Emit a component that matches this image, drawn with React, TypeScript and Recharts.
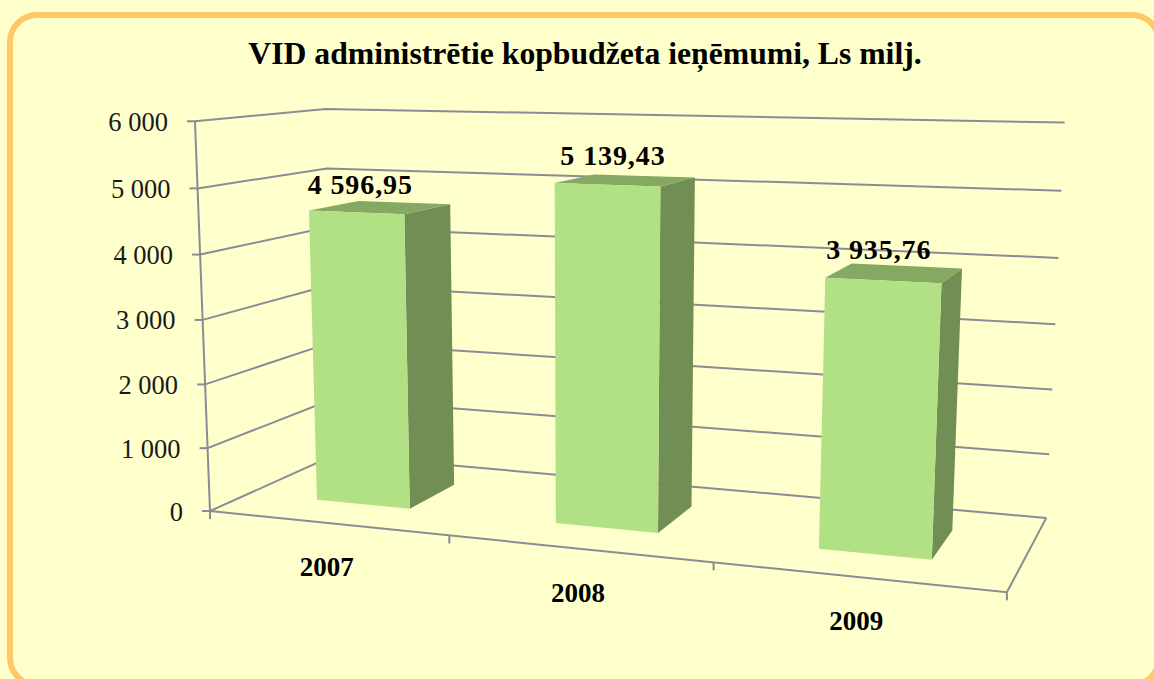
import React from "react";
import { ComposedChart, Bar, XAxis, YAxis, CartesianGrid, ReferenceLine, LabelList } from "recharts";

const categories = ["2007", "2008", "2009"];
const revenue = [4596.95, 5139.43, 3935.76];
const revenueLabels = ["4 596,95", "5 139,43", "3 935,76"];
const valueTicks = [0, 1000, 2000, 3000, 4000, 5000, 6000];
const tickLabels = ["0", "1 000", "2 000", "3 000", "4 000", "5 000", "6 000"];
const chartTitle = "VID administrētie kopbudžeta ieņēmumi, Ls milj.";

const rows = categories.map((year, i) => ({ year, revenue: revenue[i], label: revenueLabels[i] }));

// Plot rectangle handed to Recharts; its scales are then viewed through a perspective camera.
const W = 1154, H = 679;
const PL = 190, PT = 120, PW = 840, PH = 390;
const SERIF = "'Liberation Serif', serif";
const GRID = "#8b8b96";

const O = [210, 511];
const VU = [-4621, 18], VV = [590, 10350], VW = [1312, 16];
const KU = -0.1416, KV = -0.0381, KW = 0.1272;
const project = (u: number, v: number, w: number) => {
  const a = u * KU, b = v * KV, c = w * KW;
  const d = 1 + a + b + c;
  return [
    (O[0] + a * VU[0] + b * VV[0] + c * VW[0]) / d,
    (O[1] + a * VU[1] + b * VV[1] + c * VW[1]) / d,
  ];
};
const toU = (x: number) => (x - PL) / PW;
const toV = (y: number) => (PT + PH - y) / PH;
const pts = (list: number[][]) => list.map((p) => `${p[0].toFixed(1)},${p[1].toFixed(1)}`).join(" ");

const W_FRONT = 0.293, W_BACK = 0.7;
const labelShiftX = [4, 6, -4];
const labelShiftY = [-18.5, -20, -21.5];

const Box = (props: any) => {
  const { x, y, width, height } = props;
  const u0 = toU(x), u1 = toU(x + width);
  const v1 = toV(y), v0 = toV(y + height);
  const f = (u: number, v: number, w: number) => project(u, v, w);
  return (
    <g>
      <polygon points={pts([f(u1, v0, W_FRONT), f(u1, v0, W_BACK), f(u1, v1, W_BACK), f(u1, v1, W_FRONT)])} fill="#718e55" />
      <polygon points={pts([f(u0, v1, W_FRONT), f(u0, v1, W_BACK), f(u1, v1, W_BACK), f(u1, v1, W_FRONT)])} fill="#85a863" />
      <polygon points={pts([f(u0, v0, W_FRONT), f(u1, v0, W_FRONT), f(u1, v1, W_FRONT), f(u0, v1, W_FRONT)])} fill="#b1e085" />
    </g>
  );
};

const GridLine = (props: any) => {
  const v = toV(props.y1);
  return <polyline key={props.key ?? props.y1} points={pts([project(0, v, 0), project(0, v, 1), project(1, v, 1)])} fill="none" stroke={GRID} strokeWidth={2} />;
};

const Frame = () => (
  <g fill="none" stroke={GRID} strokeWidth={2}>
    <line x1={project(0, 0, 0)[0]} y1={project(0, 0, 0)[1]} x2={project(0, 1, 0)[0]} y2={project(0, 1, 0)[1]} />
    <polyline points={pts([project(0, 0, 0), project(1, 0, 0), project(1, 0, 1)])} />
  </g>
);

const YTick = (props: any) => {
  const { y, index } = props;
  const p = project(0, toV(y), 0);
  return (
    <g>
      <line x1={p[0] - 8} y1={p[1]} x2={p[0]} y2={p[1]} stroke={GRID} strokeWidth={2} />
      <text x={p[0] - 27} y={p[1] + 9.5} textAnchor="end" fontFamily={SERIF} fontSize={26.5} fill="#1a1a1a">
        {tickLabels[index]}
      </text>
    </g>
  );
};

const XTick = (props: any) => {
  const { x, index, payload } = props;
  const half = 0.5 / categories.length;
  const u = toU(x);
  const c = project(u, 0, 0);
  const right = project(u + half, 0, 0);
  const left = project(u - half, 0, 0);
  return (
    <g>
      {index === 0 && <line x1={left[0]} y1={left[1]} x2={left[0]} y2={left[1] + 8} stroke={GRID} strokeWidth={2} />}
      <line x1={right[0]} y1={right[1]} x2={right[0]} y2={right[1] + 8} stroke={GRID} strokeWidth={2} />
      <text x={c[0]} y={c[1] + 53} textAnchor="middle" fontFamily={SERIF} fontWeight="bold" fontSize={27} fill="#000">
        {payload.value}
      </text>
    </g>
  );
};

const ValueLabel = (props: any) => {
  const { x, y, width, value, index } = props;
  const p = project(toU(x + width / 2), toV(y), W_FRONT);
  return (
    <text x={p[0] + labelShiftX[index]} y={p[1] + labelShiftY[index]} textAnchor="middle" fontFamily={SERIF} fontWeight="bold" fontSize={28} letterSpacing={0.9} fill="#000">
      {value}
    </text>
  );
};

export default function App() {
  return (
    <div style={{ position: "absolute", left: 0, top: 0, width: W, height: H, overflow: "hidden", background: "#ffffcc" }}>
      <div
        style={{
          position: "absolute", left: 7, top: 12, width: 1155, height: 676, boxSizing: "border-box",
          border: "6px solid #ffc866", borderRadius: 30, background: "#ffffcc",
        }}
      />
      <div style={{ position: "absolute", left: 0, top: 0 }}>
        <ComposedChart
          width={W}
          height={H}
          data={rows}
          barCategoryGap="30%"
          margin={{ left: PL - 60, top: PT, right: W - PL - PW, bottom: H - PT - PH - 30 }}
        >
          <text x={585} y={64} textAnchor="middle" fontFamily={SERIF} fontWeight="bold" fontSize={31.7} fill="#000">
            {chartTitle}
          </text>
          <CartesianGrid vertical={false} horizontal={(p: any) => <GridLine {...p} />} />
          <XAxis dataKey="year" height={30} axisLine={false} tickLine={false} tick={<XTick />} interval={0} />
          <YAxis width={60} domain={[0, 6000]} ticks={valueTicks} axisLine={false} tickLine={false} tick={<YTick />} interval={0} />
          <ReferenceLine y={0} shape={<Frame />} />
          <Bar dataKey="revenue" shape={<Box />} isAnimationActive={false}>
            <LabelList dataKey="label" content={<ValueLabel />} />
          </Bar>
        </ComposedChart>
      </div>
    </div>
  );
}
